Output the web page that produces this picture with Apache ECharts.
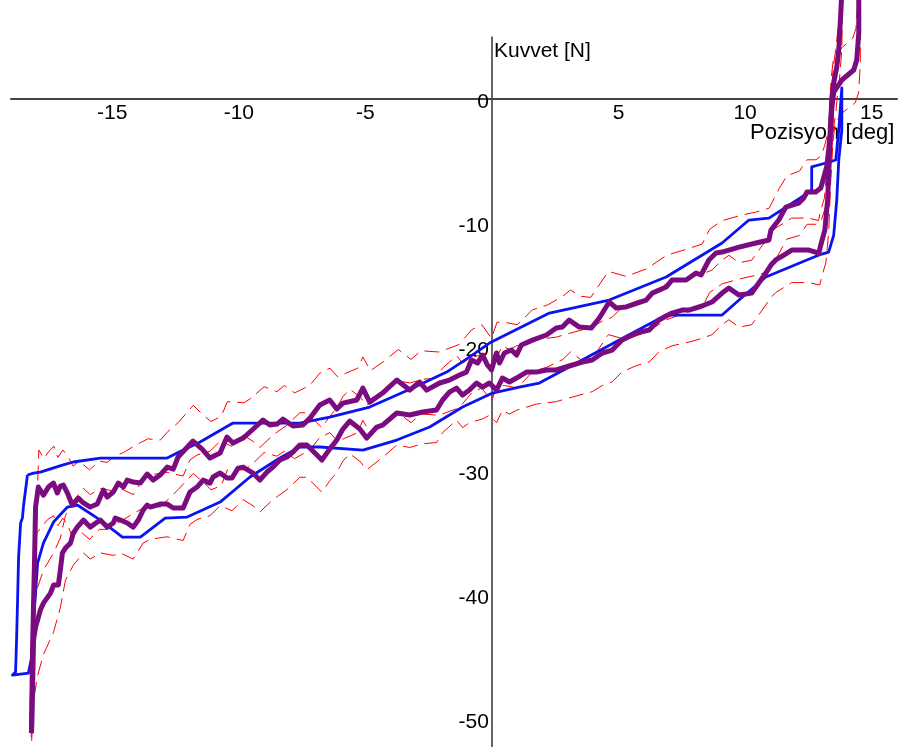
<!DOCTYPE html>
<html>
<head>
<meta charset="utf-8">
<script src="https://cdn.jsdelivr.net/npm/echarts@6/dist/echarts.min.js"></script>
<style>
  html, body { margin: 0; padding: 0; background: #fff; }
  #chart { width: 904px; height: 747px; }
</style>
</head>
<body>
<div id="chart"></div>
<script>
// Tick labels on both axes
const xTicks = [-15, -10, -5, 5, 10, 15];
const yTicks = [0, -10, -20, -30, -40, -50];

// Reference loop (blue), closed polyline [position deg, force N]
const blueLoop = [
  [-18.35,-30.32],[-18.11,-30.16],[-17.84,-30.08],[-16.97,-29.52],[-16.54,-29.27],[-15.47,-28.95],
  [-12.83,-28.95],[-12.44,-28.55],[-11.53,-27.66],[-10.23,-26.13],[-7.59,-26.13],[-6.41,-25.65],
  [-4.83,-24.84],[-3.13,-23.31],[-1.79,-22.02],[-0.89,-20.81],[-0.10,-19.68],[0.69,-18.87],
  [2.27,-17.26],[4.63,-16.21],[6.88,-14.35],[9.09,-11.61],[10.15,-9.76],[10.94,-9.60],
  [12.24,-7.90],[12.63,-7.34],[12.63,-5.48],[13.19,-5.16],[13.58,-4.92],[13.70,-2.50],
  [13.82,0.89],[13.82,-2.50],[13.70,-4.92],[13.62,-8.15],[13.50,-10.97],[13.30,-12.34],
  [13.03,-12.50],[12.63,-12.82],[10.82,-14.35],[9.76,-16.21],[9.09,-17.42],[6.88,-17.42],
  [5.03,-19.44],[3.05,-21.61],[1.87,-22.90],[1.08,-23.23],[0.02,-23.71],[-1.16,-24.84],
  [-2.46,-26.45],[-3.76,-27.50],[-5.10,-28.31],[-6.80,-28.06],[-7.59,-28.06],[-8.38,-28.95],
  [-9.56,-30.48],[-10.74,-32.50],[-12.04,-33.71],[-12.91,-33.79],[-13.89,-35.32],[-14.60,-35.32],
  [-15.47,-33.95],[-16.38,-32.74],[-16.77,-32.90],[-17.32,-34.11],[-17.72,-35.81],[-17.95,-37.42],
  [-18.03,-39.84],[-18.11,-42.02],[-18.15,-44.68],[-18.31,-46.29],[-18.94,-46.45],[-18.82,-46.21],
  [-18.78,-43.63],[-18.74,-40.40],[-18.70,-36.94],[-18.62,-34.19],[-18.55,-33.79],[-18.51,-32.90],
  [-18.35,-30.32]
];

// Measured force, forward stroke (purple)
const measuredUp = [
  [-18.19,-51.13],[-18.15,-44.44],[-18.07,-37.18],[-18.03,-32.90],[-17.92,-31.29],[-17.72,-31.94],
  [-17.52,-31.29],[-17.32,-30.97],[-17.17,-31.77],[-17.05,-31.21],[-16.93,-31.13],[-16.77,-31.77],
  [-16.58,-32.74],[-16.34,-32.18],[-16.18,-32.50],[-15.87,-32.90],[-15.59,-32.66],[-15.47,-32.10],
  [-15.35,-31.53],[-15.20,-32.10],[-14.96,-31.69],[-14.76,-30.97],[-14.56,-31.29],[-14.41,-30.73],
  [-14.17,-30.89],[-13.89,-30.97],[-13.62,-30.24],[-13.38,-30.73],[-13.11,-30.32],[-12.83,-29.68],
  [-12.59,-29.84],[-12.40,-28.87],[-11.81,-27.58],[-11.45,-28.23],[-11.14,-28.95],[-10.74,-28.55],
  [-10.47,-27.26],[-10.23,-27.74],[-9.83,-27.34],[-9.56,-26.85],[-9.05,-25.89],[-8.77,-26.29],
  [-8.49,-26.21],[-8.26,-25.81],[-7.86,-26.37],[-7.47,-26.29],[-7.19,-25.73],[-6.80,-24.68],
  [-6.41,-24.27],[-6.13,-25.00],[-5.89,-24.52],[-5.34,-24.27],[-5.10,-23.31],[-4.83,-24.44],
  [-4.32,-23.71],[-3.76,-22.66],[-3.25,-23.47],[-2.86,-22.82],[-2.58,-23.47],[-2.07,-22.90],
  [-1.68,-22.66],[-1.28,-22.26],[-1.01,-22.02],[-0.81,-21.05],[-0.57,-21.29],[-0.37,-20.65],
  [-0.18,-21.45],[-0.02,-21.85],[0.18,-20.48],[0.30,-21.29],[0.49,-20.48],[0.77,-20.24],
  [0.97,-20.65],[1.16,-19.84],[1.60,-19.44],[2.15,-19.03],[2.54,-18.47],[2.78,-18.39],
  [3.05,-17.82],[3.45,-18.39],[3.92,-18.47],[4.24,-17.66],[4.63,-16.37],[4.91,-16.85],
  [5.30,-16.77],[6.09,-16.21],[6.33,-15.65],[6.88,-15.16],[7.11,-14.60],[7.67,-14.60],
  [8.06,-14.03],[8.26,-14.19],[8.57,-12.98],[8.85,-12.42],[9.09,-12.34],[9.76,-11.94],
  [10.43,-11.61],[10.94,-11.37],[11.02,-10.56],[11.33,-9.76],[11.61,-8.71],[12.12,-8.39],
  [12.32,-7.98],[12.44,-7.50],[12.79,-7.50],[12.99,-7.18],[13.11,-6.29],[13.22,-5.48],
  [13.30,-4.11],[13.38,-2.26],[13.42,-0.08],[13.50,1.29],[13.62,2.58],[13.70,3.95],
  [13.78,6.94],[13.82,8.63]
];

// Measured force, return stroke (purple)
const measuredDown = [
  [13.82,8.63],[14.49,8.63],[14.49,5.32],[14.41,3.15],[14.29,2.34],[13.82,1.53],[13.50,0.56],
  [13.42,-0.89],[13.34,-4.11],[13.26,-8.15],[13.15,-10.56],[12.99,-11.77],[12.91,-12.42],
  [12.52,-12.18],[12.12,-12.18],[11.84,-12.18],[11.53,-12.58],[11.21,-12.98],[11.02,-13.39],
  [10.82,-14.03],[10.54,-14.84],[10.26,-15.65],[9.76,-15.81],[9.36,-15.24],[9.09,-15.65],
  [8.69,-16.37],[8.30,-16.69],[7.78,-17.02],[7.51,-17.02],[7.11,-17.26],[6.59,-17.82],
  [6.21,-18.63],[5.70,-18.87],[5.14,-19.44],[4.75,-20.24],[4.36,-20.48],[3.96,-21.05],
  [3.57,-21.21],[3.05,-21.53],[2.54,-21.85],[2.15,-21.85],[1.75,-22.02],[1.36,-22.02],
  [0.97,-22.50],[0.69,-22.82],[0.41,-22.50],[0.18,-23.47],[-0.10,-22.90],[-0.37,-23.23],
  [-0.61,-22.90],[-0.89,-23.47],[-1.16,-23.87],[-1.40,-23.31],[-1.68,-23.63],[-1.95,-24.27],
  [-2.19,-25.08],[-2.74,-25.24],[-3.25,-25.48],[-3.76,-25.32],[-4.32,-26.29],[-4.55,-26.45],
  [-4.95,-27.34],[-5.22,-26.61],[-5.62,-25.97],[-5.89,-26.61],[-6.13,-27.50],[-6.41,-28.23],
  [-6.72,-29.11],[-7.31,-27.90],[-7.59,-27.90],[-7.86,-28.47],[-8.10,-28.87],[-8.38,-29.11],
  [-8.65,-29.68],[-8.89,-30.08],[-9.17,-30.73],[-9.44,-30.16],[-9.83,-29.68],[-10.03,-29.76],
  [-10.27,-30.56],[-10.47,-30.56],[-10.74,-30.16],[-11.02,-30.48],[-11.14,-30.97],[-11.41,-30.73],
  [-11.65,-31.29],[-11.93,-31.69],[-12.20,-32.98],[-12.59,-32.98],[-12.83,-32.66],[-13.11,-32.66],
  [-13.50,-32.90],[-13.62,-32.74],[-13.78,-33.15],[-13.97,-33.95],[-14.17,-34.52],[-14.41,-34.19],
  [-14.68,-33.95],[-14.88,-33.79],[-14.96,-34.19],[-15.20,-34.52],[-15.47,-33.95],[-15.59,-34.11],
  [-15.87,-34.52],[-16.14,-33.95],[-16.38,-34.52],[-16.54,-35.00],[-16.65,-35.81],[-16.85,-36.21],
  [-16.97,-36.61],[-17.05,-37.98],[-17.13,-39.19],[-17.32,-39.19],[-17.44,-39.84],[-17.72,-40.65],
  [-17.84,-41.21],[-17.95,-42.02],[-18.03,-42.58],[-18.11,-43.63],[-18.15,-47.66],[-18.19,-51.13]
];

// Tolerance limits (red dashed): forward stroke high / low
const limitUpHigh = [
  [-18.12,-48.5],[-18.05,-40.0],[-17.98,-33.0],[-17.90,-28.3],[-17.70,-29.0],[-17.50,-28.4],
  [-17.30,-28.0],[-17.15,-28.9],[-16.95,-28.3],[-16.75,-28.8],[-16.55,-29.6],[-16.30,-29.2],
  [-15.90,-29.9],[-15.50,-29.2],[-15.20,-29.3],[-14.90,-28.8],[-14.55,-28.5],[-14.15,-28.0],
  [-13.60,-27.4],[-13.10,-27.5],[-12.80,-26.8],[-12.40,-26.1],[-11.80,-24.7],[-11.40,-25.5],
  [-11.10,-26.0],[-10.70,-25.6],[-10.45,-24.4],[-9.80,-24.5],[-9.50,-24.1],[-9.00,-23.2],
  [-8.50,-23.6],[-8.20,-23.1],[-7.80,-23.7],[-7.20,-23.1],[-6.80,-22.1],[-6.40,-21.7],
  [-6.10,-22.4],[-5.30,-21.7],[-5.10,-20.8],[-4.80,-21.9],[-4.30,-21.2],[-3.70,-20.2],
  [-3.20,-21.0],[-2.80,-20.3],[-2.10,-20.4],[-1.30,-19.8],[-0.80,-18.6],[-0.40,-18.2],
  [-0.02,-19.3],[0.20,-18.0],[0.50,-18.0],[1.00,-18.2],[1.60,-17.0],[2.20,-16.6],
  [2.80,-15.9],[3.10,-15.4],[3.50,-15.9],[3.90,-16.0],[4.60,-13.9],[5.30,-14.3],
  [6.10,-13.7],[6.90,-12.6],[7.70,-12.1],[8.30,-11.7],[8.60,-10.5],[9.10,-9.8],
  [9.80,-9.4],[10.45,-9.1],[10.95,-8.8],[11.35,-7.2],[11.65,-6.2],[12.15,-5.8],
  [12.45,-4.9],[12.80,-4.9],[13.00,-4.6],[13.15,-3.7],[13.25,-2.9],[13.33,-1.5],
  [13.40,0.3],[13.48,2.5],[13.58,4.0],[13.65,5.3],[13.72,6.5],[13.78,9.5]
];
const limitUpLow = [
  [-18.20,-50.0],[-18.12,-44.0],[-18.05,-37.0],[-17.98,-35.0],[-17.80,-34.5],[-17.55,-33.9],
  [-17.32,-33.6],[-17.15,-34.4],[-16.95,-33.8],[-16.75,-34.4],[-16.58,-35.3],[-16.30,-34.8],
  [-15.90,-35.5],[-15.50,-34.7],[-15.20,-34.7],[-14.90,-34.3],[-14.55,-33.9],[-14.15,-33.4],
  [-13.60,-32.8],[-13.10,-32.9],[-12.80,-32.3],[-12.40,-31.5],[-11.80,-30.2],[-11.40,-30.9],
  [-11.10,-31.5],[-10.70,-31.2],[-10.45,-29.9],[-9.80,-29.9],[-9.50,-29.5],[-9.00,-28.5],
  [-8.50,-28.8],[-8.20,-28.4],[-7.80,-29.0],[-7.20,-28.3],[-6.80,-27.3],[-6.40,-26.9],
  [-6.10,-27.6],[-5.30,-26.9],[-5.10,-25.9],[-4.80,-27.0],[-4.30,-26.3],[-3.70,-25.3],
  [-3.20,-26.1],[-2.80,-25.4],[-2.10,-25.5],[-1.30,-24.9],[-0.80,-23.7],[-0.40,-23.3],
  [-0.02,-24.4],[0.20,-23.1],[0.50,-23.1],[1.00,-23.3],[1.60,-22.0],[2.20,-21.6],
  [2.80,-21.0],[3.10,-20.4],[3.50,-21.0],[3.90,-21.1],[4.60,-19.0],[5.30,-19.4],
  [6.10,-18.8],[6.90,-17.8],[7.70,-17.2],[8.30,-16.8],[8.60,-15.6],[9.10,-14.9],
  [9.80,-14.5],[10.45,-14.2],[10.95,-13.9],[11.35,-12.4],[11.65,-11.3],[12.15,-11.0],
  [12.45,-10.1],[12.80,-10.1],[13.00,-9.8],[13.15,-8.9],[13.25,-8.1],[13.33,-6.7],
  [13.40,-4.7],[13.48,-2.6],[13.58,-1.1],[13.65,0.3],[13.72,1.4],[13.82,4.0],[13.86,9.5]
];

// Tolerance limits (red dashed): return stroke high / low
const limitDownHigh = [
  [14.45,9.5],[14.45,7.9],[14.38,5.7],[14.25,4.9],[13.80,4.1],[13.48,3.1],[13.40,1.7],
  [13.32,-1.5],[13.24,-5.5],[13.13,-8.0],[12.97,-9.1],[12.90,-9.8],[12.50,-9.6],[12.10,-9.6],
  [11.84,-9.6],[11.53,-10.0],[11.21,-10.4],[11.02,-10.8],[10.82,-11.4],[10.54,-12.2],
  [10.26,-13.0],[9.76,-13.2],[9.36,-12.6],[9.09,-13.0],[8.69,-13.8],[8.30,-14.1],
  [7.78,-14.4],[7.11,-14.7],[6.59,-15.2],[6.21,-16.0],[5.70,-16.3],[5.14,-16.8],
  [4.75,-17.6],[4.36,-17.9],[3.96,-18.4],[3.05,-18.9],[2.54,-19.2],[1.75,-19.4],
  [0.97,-19.9],[0.69,-20.2],[0.41,-19.9],[0.18,-20.9],[-0.10,-20.3],[-0.37,-20.6],
  [-0.89,-20.9],[-1.16,-21.3],[-1.40,-20.7],[-1.95,-21.7],[-2.19,-22.5],[-2.74,-22.6],
  [-3.25,-22.9],[-3.76,-22.7],[-4.32,-23.7],[-4.95,-24.7],[-5.22,-24.0],[-5.62,-23.4],
  [-5.89,-24.0],[-6.13,-24.9],[-6.41,-25.6],[-6.72,-26.5],[-7.31,-25.3],[-7.59,-25.3],
  [-8.10,-26.3],[-8.65,-27.1],[-9.17,-28.1],[-9.44,-27.6],[-9.83,-27.1],[-10.27,-28.0],
  [-10.74,-27.6],[-11.14,-28.4],[-11.65,-28.7],[-11.93,-29.1],[-12.20,-30.4],[-12.83,-30.1],
  [-13.50,-30.3],[-13.78,-30.6],[-14.17,-31.9],[-14.68,-31.4],[-14.96,-31.6],[-15.47,-31.4],
  [-15.87,-31.9],[-16.14,-31.4],[-16.54,-32.4],[-16.85,-33.6],[-17.05,-35.4],[-17.32,-36.6],
  [-17.72,-38.0],[-17.95,-39.4],[-18.11,-41.0],[-18.17,-45.0],[-18.20,-51.5]
];
const limitDownLow = [
  [14.55,9.5],[14.55,2.7],[14.48,0.5],[14.35,-0.3],[13.85,-1.1],[13.55,-2.0],[13.47,-3.5],
  [13.38,-6.7],[13.30,-10.8],[13.19,-13.2],[13.03,-14.3],[12.95,-15.0],[12.52,-14.8],[12.12,-14.8],
  [11.84,-14.8],[11.53,-15.2],[11.21,-15.6],[11.02,-16.0],[10.82,-16.6],[10.54,-17.4],
  [10.26,-18.2],[9.76,-18.4],[9.36,-17.8],[9.09,-18.2],[8.69,-19.0],[8.30,-19.3],
  [7.78,-19.6],[7.11,-19.9],[6.59,-20.4],[6.21,-21.2],[5.70,-21.5],[5.14,-22.0],
  [4.75,-22.8],[4.36,-23.1],[3.96,-23.6],[3.05,-24.1],[2.54,-24.4],[1.75,-24.6],
  [0.97,-25.1],[0.69,-25.4],[0.41,-25.1],[0.18,-26.1],[-0.10,-25.5],[-0.37,-25.8],
  [-0.89,-26.1],[-1.16,-26.5],[-1.40,-25.9],[-1.95,-26.9],[-2.19,-27.7],[-2.74,-27.8],
  [-3.25,-28.1],[-3.76,-27.9],[-4.32,-28.9],[-4.95,-29.9],[-5.22,-29.2],[-5.62,-28.6],
  [-5.89,-29.2],[-6.13,-30.1],[-6.41,-30.8],[-6.72,-31.7],[-7.31,-30.5],[-7.59,-30.5],
  [-8.10,-31.5],[-8.65,-32.3],[-9.17,-33.3],[-9.44,-32.8],[-9.83,-32.3],[-10.27,-33.2],
  [-10.74,-32.8],[-11.14,-33.6],[-11.65,-33.9],[-11.93,-34.3],[-12.20,-35.6],[-12.83,-35.3],
  [-13.50,-35.5],[-13.78,-35.8],[-14.17,-37.1],[-14.68,-36.6],[-14.96,-36.8],[-15.47,-36.6],
  [-15.87,-37.1],[-16.14,-36.6],[-16.54,-37.6],[-16.85,-38.8],[-17.05,-41.0],[-17.32,-43.0],
  [-17.72,-44.8],[-17.95,-46.5],[-18.11,-48.5],[-18.20,-52.5]
];

const FONT = "'Liberation Sans', Arial, sans-serif";
const CHART_W = 904, CHART_H = 747;
const GRID = { left: 11, right: 7, top: 37, bottom: 0 };
const X_MIN = -19, X_MAX = 16, Y_MIN = -52.25, Y_MAX = 5;

// Axes cross at the origin: shift each axis from its grid edge to the zero of the other.
const plotW = CHART_W - GRID.left - GRID.right;
const plotH = CHART_H - GRID.top - GRID.bottom;
const xAxisOffset = -plotH * (0 - Y_MIN) / (Y_MAX - Y_MIN);
const yAxisOffset = -plotW * (0 - X_MIN) / (X_MAX - X_MIN);

const chart = echarts.init(document.getElementById('chart'), null, { renderer: 'canvas' });

function lineSeries(data, color, width, dashed, z) {
  return {
    type: 'line',
    data: data,
    showSymbol: false,
    clip: false,
    z: z,
    silent: true,
    lineStyle: { color: color, width: width, type: dashed ? [15, 7] : 'solid', join: 'round' }
  };
}

chart.setOption({
  animation: false,
  backgroundColor: '#ffffff',
  grid: Object.assign({ containLabel: false, outerBoundsMode: 'none' }, GRID),
  xAxis: {
    type: 'value',
    position: 'bottom',
    offset: xAxisOffset,
    min: X_MIN, max: X_MAX,
    axisLine: { onZero: false, lineStyle: { color: '#444', width: 2 } },
    axisTick: { show: false },
    splitLine: { show: false },
    axisLabel: {
      customValues: xTicks,
      margin: 4,
      color: '#000',
      fontFamily: FONT,
      fontSize: 21
    }
  },
  yAxis: {
    type: 'value',
    position: 'left',
    offset: yAxisOffset,
    min: Y_MIN, max: Y_MAX,
    axisLine: { onZero: false, lineStyle: { color: '#333', width: 1.5 } },
    axisTick: { show: false },
    splitLine: { show: false },
    axisLabel: {
      customValues: yTicks,
      margin: 3,
      color: '#000',
      fontFamily: FONT,
      fontSize: 21,
      verticalAlign: 'top',
      lineHeight: 7
    }
  },
  graphic: [
    { type: 'text', left: 494, top: 41, z: 0,
      style: { text: 'Kuvvet [N]', fill: '#000', font: '21px ' + FONT } },
    { type: 'text', left: 750, top: 122, z: 0,
      style: { text: 'Pozisyon [deg]', fill: '#000', font: '22px ' + FONT } }
  ],
  series: [
    lineSeries(limitUpHigh, '#ff0000', 1, true, 3),
    lineSeries(limitUpLow, '#ff0000', 1, true, 3),
    lineSeries(limitDownHigh, '#ff0000', 1, true, 3),
    lineSeries(limitDownLow, '#ff0000', 1, true, 3),
    lineSeries(blueLoop, '#0a14f0', 2.8, false, 4),
    lineSeries(measuredUp, '#7a0c80', 5, false, 5),
    lineSeries(measuredDown, '#7a0c80', 5, false, 5)
  ]
});
</script>
</body>
</html>
